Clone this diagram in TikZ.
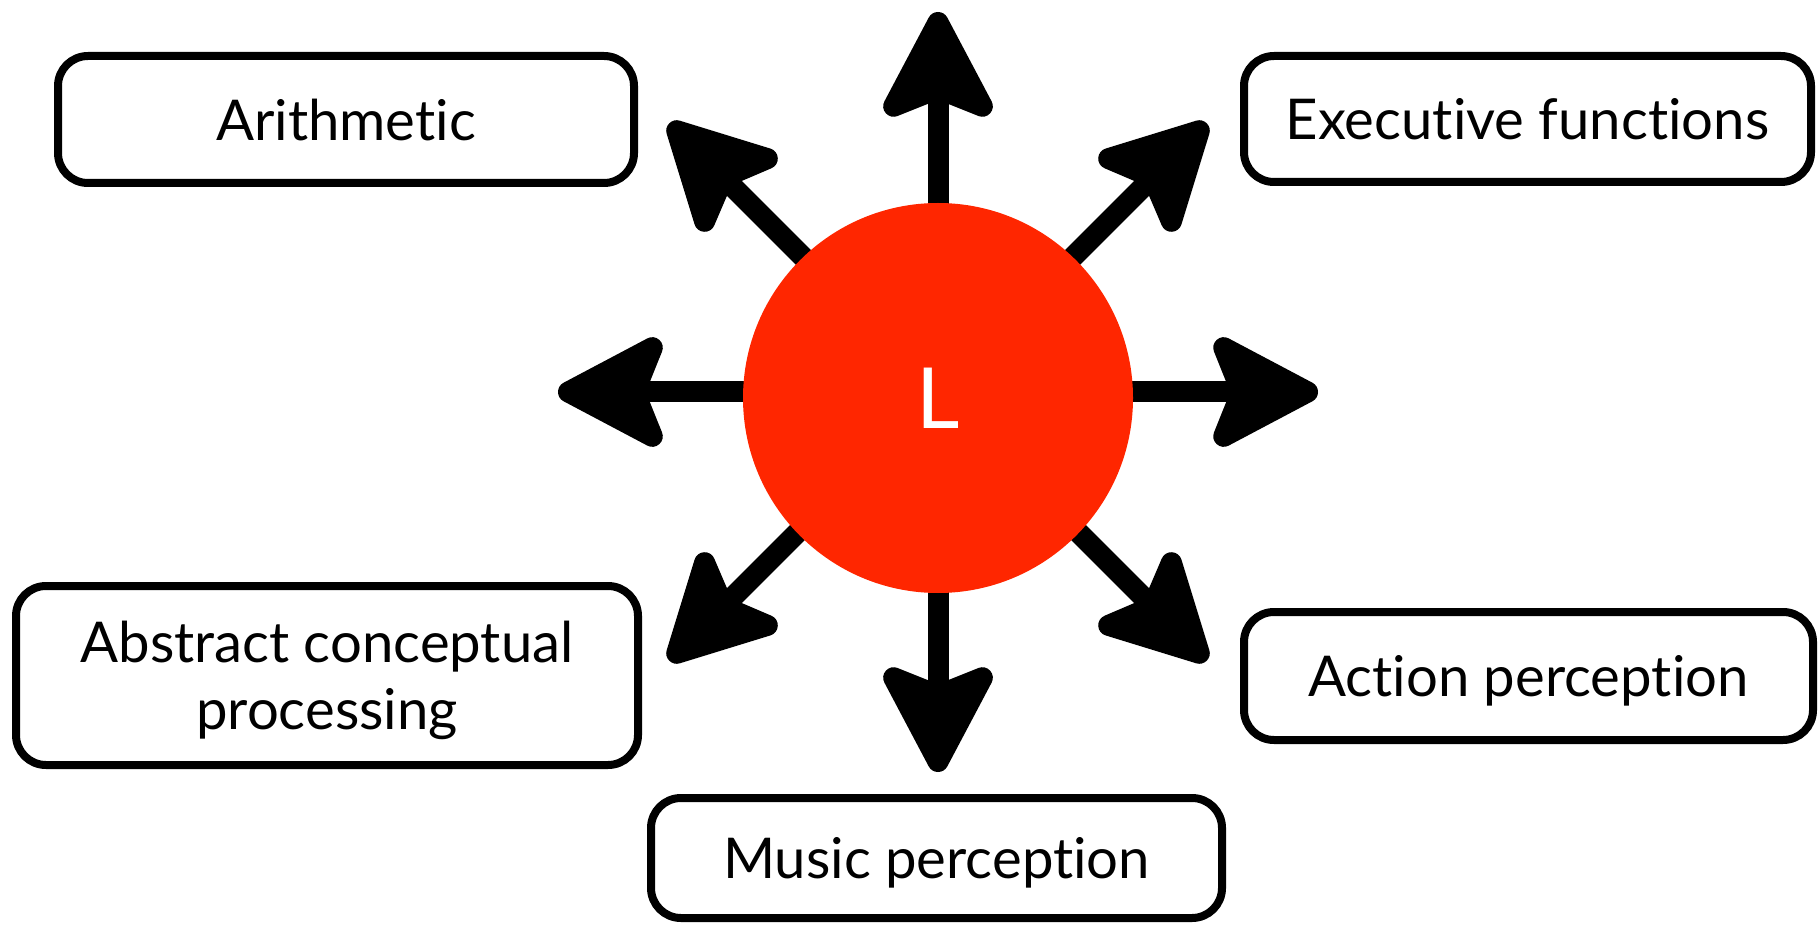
\documentclass[tikz,border=0pt]{standalone}
\usepackage{fontspec}
\setmainfont{Lato}[Ligatures=NoCommon]
\usetikzlibrary{arrows.meta}
\definecolor{hubred}{HTML}{FF2600}

\begin{document}
\begin{tikzpicture}[
  font=\fontsize{16}{19}\selectfont,
  bx/.style={draw, line width=0.08cm, rounded corners=0.3cm, align=center,
             text depth=0pt, inner sep=0pt},
  hb/.style={circle, fill=hubred, minimum size=3.9cm, inner sep=0pt, text=white,
             font=\fontsize{24}{27}\selectfont},
  sp/.style={line width=0.21cm, -{Stealth[length=1.25cm, width=1.3cm, inset=0.25cm, round]}}
]
\useasboundingbox (0,0) rectangle (18.19,-9.27);
% ----- spokes from the hub -----
\coordinate (hub) at (9.38,-3.92);
\foreach \a/\n in {0/E,45/NE,90/N,135/NW,180/W,225/SW,270/S,315/SE}{
  \coordinate (t\n) at ([shift={(\a:3.8)}]hub);
  \draw[sp] (hub) -- (t\n);}
% ----- centre -----
\node[hb] (L) at (9.38,-3.98) {L};
% ----- boxes -----
\node[bx, minimum width=5.76cm, minimum height=1.27cm] (arith) at (3.46,-1.195) {Arithmetic};
\node[bx, minimum width=5.67cm, minimum height=1.26cm] (exec)  at (15.275,-1.19) {Executive functions};
\node[bx, minimum width=6.22cm, minimum height=1.79cm] (abstr) at (3.27,-6.755) {Abstract conceptual\\processing};
\node[bx, minimum width=5.69cm, minimum height=1.28cm] (actn)  at (15.285,-6.76) {Action perception};
\node[bx, minimum width=5.71cm, minimum height=1.20cm] (music) at (9.365,-8.58) {Music perception};
\end{tikzpicture}
\end{document}
